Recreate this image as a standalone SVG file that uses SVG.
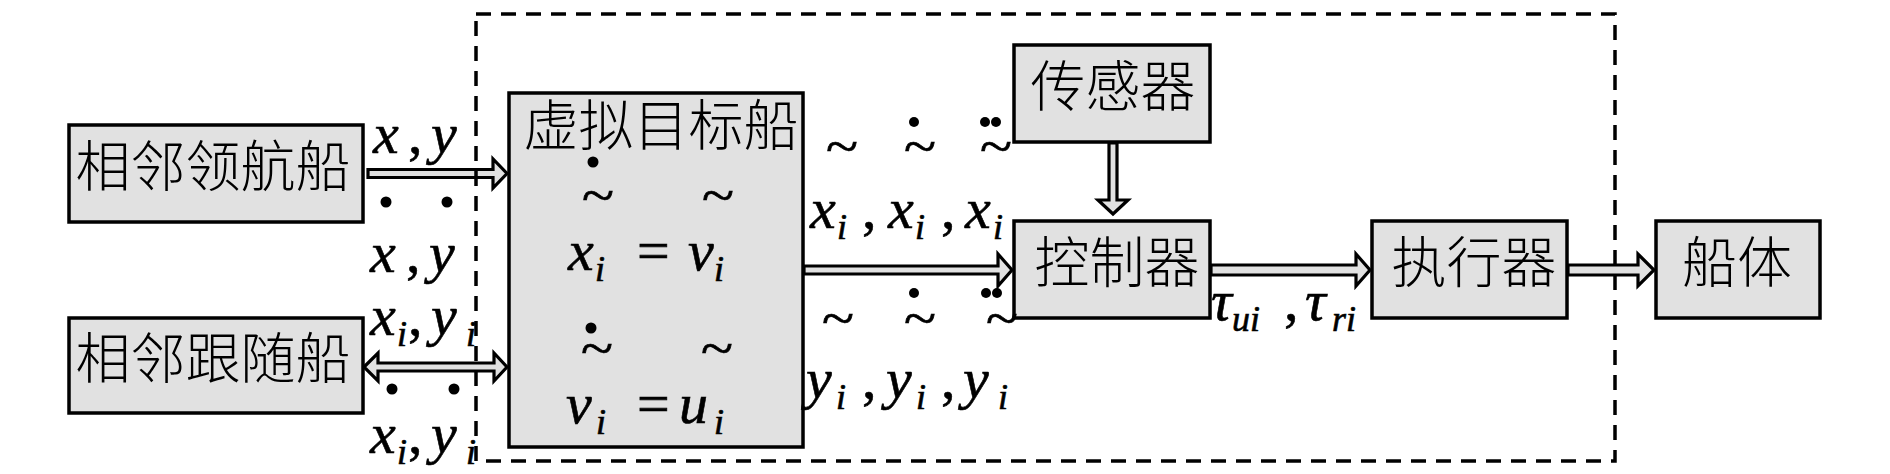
<svg xmlns="http://www.w3.org/2000/svg" width="1890" height="474" viewBox="0 0 1890 474">
<style>
.box{fill:#e1e1e1;stroke:#000;stroke-width:3.5}
.arr{fill:#e1e1e1;stroke:#000;stroke-width:3.2;stroke-linejoin:miter}
.cjk{font-family:"Noto Sans CJK SC","Noto Sans CJK JP",sans-serif;font-size:55px;font-weight:300;fill:#000}
.eq{font-family:"Liberation Serif","Times New Roman",serif;font-size:58px;fill:#000;stroke:#000;stroke-width:0.6}
.m{font-style:italic;font-size:58px}
.s{font-style:italic;font-size:36px}
.u{font-style:normal;font-size:58px}
.tl{font-family:"Liberation Serif","Times New Roman",serif;font-size:52px;fill:#000;stroke:#000;stroke-width:0.7}
.frame{fill:none;stroke:#000;stroke-width:3.5;stroke-dasharray:15 10}
</style>
<rect width="1890" height="474" fill="#fff"/>
<g id="leader">
<rect class="box" x="69" y="125" width="294" height="97"/>
<text class="cjk" x="213" y="186" text-anchor="middle">相邻领航船</text>
</g>
<g id="follower">
<rect class="box" x="69" y="318" width="294" height="95"/>
<text class="cjk" x="213" y="378" text-anchor="middle">相邻跟随船</text>
</g>
<g id="virtual">
<rect class="box" x="509" y="93" width="294" height="354"/>
<text class="cjk" x="661" y="145" text-anchor="middle">虚拟目标船</text>
<circle cx="593" cy="162" r="5.5"/>
<text class="tl" x="582" y="213" textLength="32" lengthAdjust="spacingAndGlyphs">~</text>
<text class="tl" x="702" y="213" textLength="32" lengthAdjust="spacingAndGlyphs">~</text>
<text class="eq"><tspan class="m" x="568" y="270">x</tspan><tspan class="s" x="595" y="281">i</tspan><tspan class="u" x="637" y="270">=</tspan><tspan class="m" x="688" y="270">v</tspan><tspan class="s" x="714" y="281">i</tspan></text>
<circle cx="591" cy="328" r="5.5"/>
<text class="tl" x="581" y="366" textLength="32" lengthAdjust="spacingAndGlyphs">~</text>
<text class="tl" x="701" y="366" textLength="32" lengthAdjust="spacingAndGlyphs">~</text>
<text class="eq"><tspan class="m" x="566" y="423">v</tspan><tspan class="s" x="596" y="434">i</tspan><tspan class="u" x="637" y="423">=</tspan><tspan class="m" x="679" y="423">u</tspan><tspan class="s" x="714" y="434">i</tspan></text>
</g>
<g id="sensor">
<rect class="box" x="1014" y="45" width="196" height="97"/>
<text class="cjk" x="1113" y="106" text-anchor="middle">传感器</text>
</g>
<g id="controller">
<rect class="box" x="1014" y="221" width="196" height="97"/>
<text class="cjk" x="1117" y="282" text-anchor="middle">控制器</text>
</g>
<g id="actuator">
<rect class="box" x="1372" y="221" width="195" height="97"/>
<text class="cjk" x="1474" y="282" text-anchor="middle">执行器</text>
</g>
<g id="hull">
<rect class="box" x="1656" y="221" width="164" height="97"/>
<text class="cjk" x="1737" y="282" text-anchor="middle">船体</text>
</g>
<g id="connectors">
<polygon class="arr" points="368,169.5 493,169.5 493,159 507,173.5 493,188 493,177.5 368,177.5"/>
<polygon class="arr" points="364,367 378,353 378,363 494,363 494,353 507,367 494,381 494,371 378,371 378,381"/>
<polygon class="arr" points="804,266 998,266 998,254 1012,270 998,286 998,274 804,274"/>
<polygon class="arr" points="1109,143 1117,143 1117,200 1128,200 1113,214 1098,200 1109,200"/>
<polygon class="arr" points="1211,265 1356,265 1356,254 1370,270 1356,286 1356,275 1211,275"/>
<polygon class="arr" points="1568,265 1638,265 1638,254 1654,270 1638,286 1638,275 1568,275"/>
</g>
<g id="labels">
<text class="eq"><tspan class="m" x="373" y="153">x</tspan><tspan class="u" x="408" y="153">,</tspan><tspan class="m" x="431" y="153">y</tspan></text>
<circle cx="386" cy="202" r="5.5"/><circle cx="447" cy="202" r="5.5"/>
<text class="eq"><tspan class="m" x="370" y="272">x</tspan><tspan class="u" x="406" y="272">,</tspan><tspan class="m" x="429" y="272">y</tspan></text>
<text class="eq"><tspan class="m" x="370" y="335">x</tspan><tspan class="s" x="397" y="346">i</tspan><tspan class="u" x="408" y="335">,</tspan><tspan class="m" x="431" y="335">y</tspan><tspan class="s" x="466" y="346">i</tspan></text>
<circle cx="392" cy="389" r="5.5"/><circle cx="454" cy="389" r="5.5"/>
<text class="eq"><tspan class="m" x="370" y="453">x</tspan><tspan class="s" x="397" y="464">i</tspan><tspan class="u" x="408" y="453">,</tspan><tspan class="m" x="431" y="453">y</tspan><tspan class="s" x="466" y="464">i</tspan></text>
<circle cx="914" cy="122" r="5"/><circle cx="985" cy="122" r="5"/><circle cx="996" cy="122" r="5"/>
<text class="tl" x="826" y="164" textLength="32" lengthAdjust="spacingAndGlyphs">~</text>
<text class="tl" x="904" y="164" textLength="32" lengthAdjust="spacingAndGlyphs">~</text>
<text class="tl" x="980" y="164" textLength="32" lengthAdjust="spacingAndGlyphs">~</text>
<text class="eq"><tspan class="m" x="810" y="228">x</tspan><tspan class="s" x="837" y="239">i</tspan><tspan class="u" x="862" y="228">,</tspan><tspan class="m" x="888" y="228">x</tspan><tspan class="s" x="915" y="239">i</tspan><tspan class="u" x="941" y="228">,</tspan><tspan class="m" x="965" y="228">x</tspan><tspan class="s" x="993" y="239">i</tspan></text>
<circle cx="914" cy="293" r="5"/><circle cx="986" cy="293" r="5"/><circle cx="997" cy="293" r="5"/>
<text class="tl" x="822" y="336" textLength="32" lengthAdjust="spacingAndGlyphs">~</text>
<text class="tl" x="904" y="336" textLength="32" lengthAdjust="spacingAndGlyphs">~</text>
<text class="tl" x="986" y="336" textLength="32" lengthAdjust="spacingAndGlyphs">~</text>
<text class="eq"><tspan class="m" x="806" y="398">y</tspan><tspan class="s" x="836" y="409">i</tspan><tspan class="u" x="862" y="398">,</tspan><tspan class="m" x="886" y="398">y</tspan><tspan class="s" x="916" y="409">i</tspan><tspan class="u" x="941" y="398">,</tspan><tspan class="m" x="963" y="398">y</tspan><tspan class="s" x="998" y="409">i</tspan></text>
<text class="eq"><tspan class="m" x="1211" y="320">τ</tspan><tspan class="s" x="1232" y="331">ui</tspan><tspan class="u" x="1284" y="320">,</tspan><tspan class="m" x="1305" y="320">τ</tspan><tspan class="s" x="1332" y="331">ri</tspan></text>
</g>
<g id="boundary">
<rect class="frame" x="476" y="14" width="1139" height="447"/>
</g>
</svg>
